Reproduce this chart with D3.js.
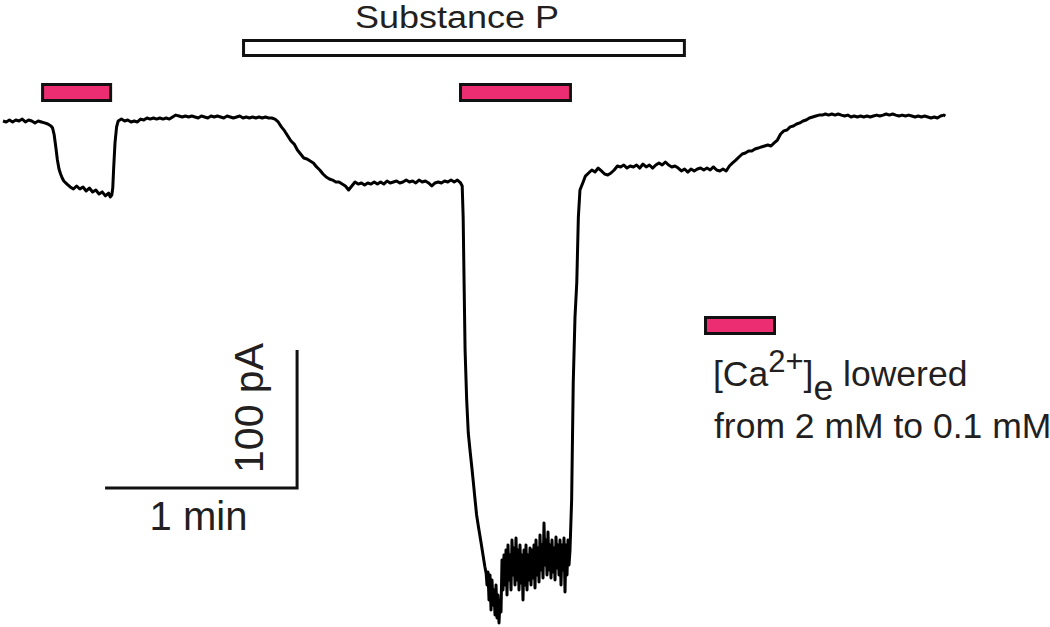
<!DOCTYPE html>
<html>
<head>
<meta charset="utf-8">
<script src="https://cdn.jsdelivr.net/npm/d3@7/dist/d3.min.js"></script>
<style>
  html, body { margin: 0; padding: 0; background: #fff; }
  svg { display: block; }
  text { font-family: "Liberation Sans", Arial, Helvetica, sans-serif; fill: #231f20; }
</style>
</head>
<body>
<svg id="chart" width="1050" height="627"></svg>
<script>
// ---------------- DATA (time in s, current in pA) ----------------
const segBaseline0 = [[0,0],[1,-0.7],[2,0.7],[3,-0.7],[4,0.7],[5,0],[6,1.4],[7,-0.7],[8,0.7],[9,0],[10,-1.4],[11,0],[12,-0.7],[13,-1.4],[14,-2.2],[15,-3.6]];

const segCaPulse1 = [[15.5,-5.1],[16,-10.1],[16.5,-18.8],[17,-28.3],[17.5,-34.8],[18,-38.4],[18.5,-41.3],[19,-43.5],[20,-45.7],[21,-47.8],[22,-49.3],[23,-47.1],[24,-49.3],[25,-47.8],[26,-50.7],[27,-48.6],[28,-51.4],[29,-50],[30,-52.9],[31,-51.4],[32,-54.3],[33,-52.2],[33.5,-55.1],[34,-53.6],[34.3,-48.6],[34.6,-33.3],[35,-15.9],[35.5,-4.3]];

const segBaseline1 = [[36,0],[37,1.4],[38,0],[39,0.7],[40,-0.7],[41,0],[42,-0.7],[43,1.4],[44,0.7],[45,2.2],[46,1.4],[47,2.2],[48,1.4],[49,2.2],[50,1.4],[51,2.2],[52,1.4],[53,2.9],[54,4.3],[55,3.6],[56,2.9],[57,3.6],[58,2.9],[59,3.6],[60,2.9],[61,2.2],[62,3.6],[63,2.9],[64,2.2],[65,3.6],[66,2.9],[67,3.6],[68,2.9],[69,2.2],[70,3.6],[71,2.9],[72,2.2],[73,2.9],[74,3.6],[75,2.2],[76,2.9],[77,2.2],[78,2.9],[79,2.2],[80,2.9],[81,2.2],[82,2.9],[83,2.2],[84,2.2]];

const segSubstanceP = [[85,1.4],[86,-0.7],[87,-4.3],[88,-7.2],[89,-10.9],[90,-14.5],[91,-16.7],[92,-21],[93,-23.9],[94,-26.8],[95,-27.5],[96,-29],[97,-30.4],[98,-33.3],[99,-35.5],[100,-38.4],[101,-40.6],[102,-42],[103,-42.8],[104,-44.2],[105,-44.2],[106,-45.7],[107,-47.1],[108,-50],[109,-47.1],[110,-44.2],[111,-45.7],[112,-44.9],[113,-46.4],[114,-44.9],[115,-45.7],[116,-44.2],[117,-45.7],[118,-44.2],[119,-45.7],[120,-43.5],[121,-44.9],[122,-44.2],[123,-43.5],[124,-44.9],[125,-44.2],[126,-42.8],[127,-44.2],[128,-43.5],[129,-44.9],[130,-42.8],[131,-44.2],[132,-43.5],[133,-44.9],[134,-47.1],[135,-44.9],[136,-44.2],[137,-44.9],[138,-43.5],[139,-44.2],[140,-42.8],[141,-44.2],[142,-42.8],[143,-44.9]];

const segDrop = [[143.5,-47.1],[143.8,-69.6],[144.1,-118.8],[144.4,-165.9],[144.9,-202.2],[145.4,-226.1],[146,-240],[146.5,-250.7],[147,-262.3],[147.5,-274],[148,-285.5],[148.5,-293],[149,-300],[149.5,-307],[150,-314.5],[150.6,-323.2],[151,-328]];

const troughStart = 151.25;   // s
const troughDt = 0.3125;      // s per sample
const troughPA = [-336.2,-326.8,-347.1,-329.0,-354.3,-332.6,-350.7,-339.9,-358.0,-336.2,
  -360.1,-343.5,-363.8,-347.1,-355.8,-318.1,-339.9,-314.5,-336.2,-310.9,
  -343.5,-307.2,-332.6,-314.5,-339.9,-303.6,-329.0,-309.4,-336.2,-302.2,
  -332.6,-310.9,-339.9,-307.2,-334.8,-314.5,-347.1,-310.9,-336.2,-307.2,
  -339.9,-314.5,-332.6,-309.4,-336.2,-310.9,-331.2,-307.2,-338.4,-303.6,
  -329.0,-309.4,-334.1,-300.0,-325.4,-307.2,-331.2,-291.3,-321.7,-303.6,
  -329.0,-297.8,-325.4,-307.2,-331.2,-303.6,-326.8,-309.4,-332.6,-301.4,
  -323.9,-307.2,-329.0,-303.6,-336.2,-307.2,-325.4,-302.2,-341.3,-307.2,
  -329.0,-303.6,-321.7,-310.9];

const segRecover = [[177.7,-274.6],[178.2,-189.9],[178.75,-142],[179.3,-117.4],[179.8,-69.6],[180.3,-50],[181.3,-44.2]];

const segWashout = [[182,-39.9],[183,-37.7],[184,-35.5],[185,-37],[186,-34.1],[187,-36.2],[188,-38.4],[189,-39.1],[190,-37.7],[191,-35.5],[192,-32.6],[193,-33.3],[194,-31.9],[195,-34.1],[196,-32.6],[197,-33.3],[198,-31.9],[199,-34.1],[200,-31.2],[201,-33.3],[202,-31.9],[203,-34.1],[204,-31.9],[205,-30.4],[206,-31.9],[207,-29.7],[208,-31.9],[209,-33.3],[210,-32.6],[211,-34.1],[212,-36.2],[213,-34.8],[214,-37],[215,-34.8],[216,-36.2],[217,-34.8],[218,-34.1],[219,-35.5],[220,-34.1],[221,-35.5],[222,-33.3],[223,-35.5],[224,-36.2],[225,-34.8],[226,-36.2],[227,-32.6],[228,-30.4],[229,-28.3],[230,-26.1],[231,-23.9],[232,-23.2],[233,-21.7],[234,-21.7],[235,-20.3],[236,-19.6],[237,-18.8],[238,-18.1],[239,-17.4],[240,-18.1],[241,-15.9],[242,-13.8],[243,-9.4],[244,-7.2],[245,-6.5],[246,-4.3],[247,-3.6],[248,-2.2],[249,-1.4],[250,0],[251,0.7],[252,2.2],[253,2.9],[254,3.6],[255,4.3],[256,4.3],[257,5.1],[258,4.3],[259,5.1],[260,4.3],[261,5.1],[262,4.3],[263,3.6],[264,4.3],[265,2.9],[266,3.6],[267,2.9],[268,3.6],[269,2.9],[270,3.6],[271,2.9],[272,3.6],[273,4.3],[274,3.6],[275,4.3],[276,5.1],[277,4.3],[278,5.1],[279,4.3],[280,3.6],[281,4.3],[282,3.6],[283,4.3],[284,3.6],[285,2.9],[286,3.6],[287,2.9],[288,3.6],[289,2.9],[290,2.2],[291,2.9],[292,2.2],[293,3.6],[294,4.3],[294.5,3.6]];

// application periods (s)
const caLowPeriods = [[11.9, 34.1], [142.5, 177.8]];
const substancePPeriod = [74.7, 213.4];

// scale bars
const scaleBarTime = 60;      // s  -> "1 min"
const scaleBarCurrent = 100;  // pA -> "100 pA"
const scaleBarCorner = [91.9, -265.9]; // [s, pA]

const labelSubstanceP = "Substance P";
const labelTime = "1 min";
const labelCurrent = "100 pA";
const legendLine2 = "from 2 mM to 0.1 mM";

// ---------------- DRAW ----------------
const pink = "#ec2d72";
const ink = "#111";
const svg = d3.select("#chart");
svg.append("rect").attr("width", 1050).attr("height", 627).attr("fill", "#fff");

const x = d3.scaleLinear().domain([0, 300]).range([3, 963]);
const y = d3.scaleLinear().domain([0, -100]).range([121, 259]);

const trough = troughPA.map((v, i) => [troughStart + i * troughDt, v]);
const trace = [].concat(segBaseline0, segCaPulse1, segBaseline1, segSubstanceP, segDrop, trough, segRecover, segWashout);

const line = d3.line().x(d => x(d[0])).y(d => y(d[1]));
svg.append("path")
  .datum(trace)
  .attr("d", line)
  .attr("fill", "none")
  .attr("stroke", "#000")
  .attr("stroke-width", 3)
  .attr("stroke-linejoin", "round");

// application bars (outer edges at the given times)
const sw = 3;
function bar(t0, t1, top, bottom, fill) {
  svg.append("rect")
    .attr("x", x(t0) + sw / 2).attr("y", top + sw / 2)
    .attr("width", x(t1) - x(t0) - sw).attr("height", bottom - top - sw)
    .attr("fill", fill).attr("stroke", ink).attr("stroke-width", sw);
}
caLowPeriods.forEach(p => bar(p[0], p[1], 83, 102, pink));
bar(substancePPeriod[0], substancePPeriod[1], 39, 57, "#fff");

svg.append("text")
  .attr("x", 355).attr("y", 28)
  .attr("font-size", 31)
  .attr("textLength", 204)
  .attr("lengthAdjust", "spacingAndGlyphs")
  .text(labelSubstanceP);

// scale bars
const cx = x(scaleBarCorner[0]), cy = y(scaleBarCorner[1]);
svg.append("path")
  .attr("d", `M${x(scaleBarCorner[0] - scaleBarTime)},${cy}H${cx}V${y(scaleBarCorner[1] + scaleBarCurrent)}`)
  .attr("fill", "none").attr("stroke", ink).attr("stroke-width", 3)
  .attr("stroke-linejoin", "miter");

svg.append("text")
  .attr("x", 198.5).attr("y", 530)
  .attr("text-anchor", "middle")
  .attr("font-size", 40)
  .text(labelTime);

svg.append("text")
  .attr("transform", `translate(263,408) rotate(-90)`)
  .attr("text-anchor", "middle")
  .attr("font-size", 41)
  .text(labelCurrent);

// legend
svg.append("rect")
  .attr("x", 704 + sw / 2).attr("y", 316 + sw / 2)
  .attr("width", 72 - sw).attr("height", 19 - sw)
  .attr("fill", pink).attr("stroke", ink).attr("stroke-width", sw);

const l1 = svg.append("text").attr("x", 713).attr("y", 386).attr("font-size", 35.5);
l1.append("tspan").text("[Ca");
l1.append("tspan").attr("font-size", 31).attr("dy", -14).text("2+");
l1.append("tspan").attr("dy", 14).text("]");
l1.append("tspan").attr("dy", 14).text("e");
l1.append("tspan").attr("dy", -14).text(" lowered");

svg.append("text").attr("x", 714).attr("y", 438).attr("font-size", 35.5).text(legendLine2);
</script>
</body>
</html>
